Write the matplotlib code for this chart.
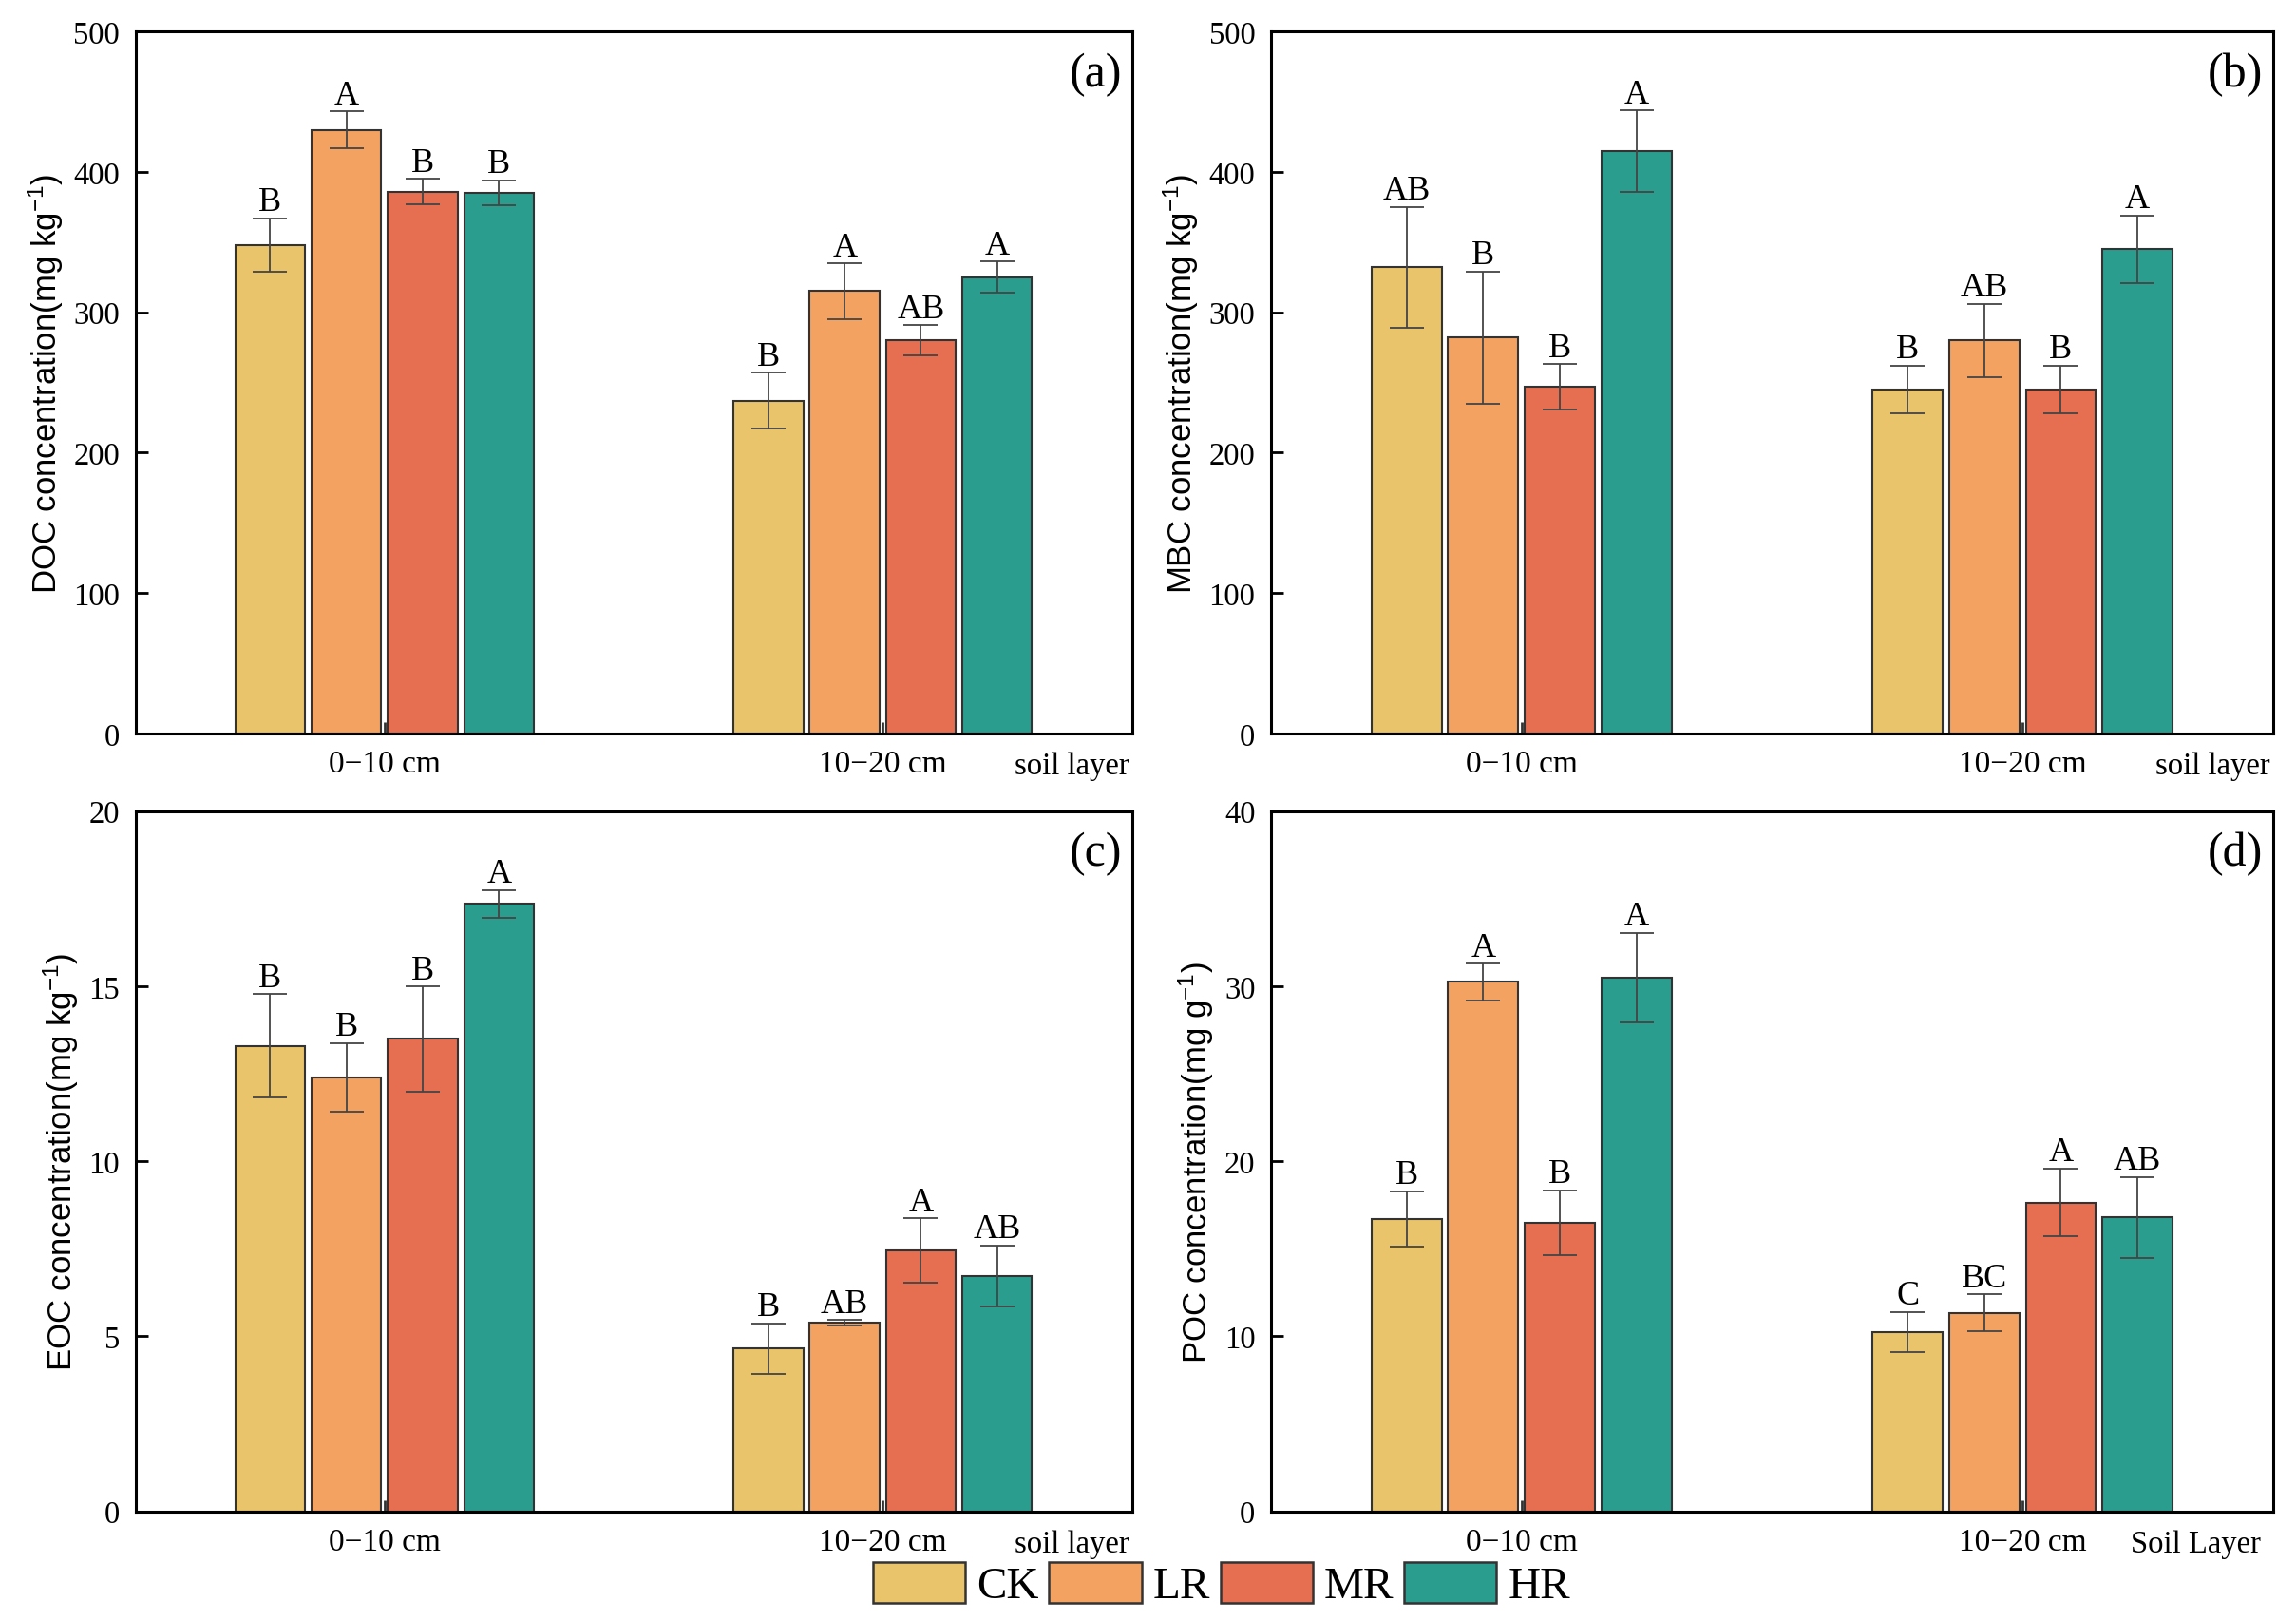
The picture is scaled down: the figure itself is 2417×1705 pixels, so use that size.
import matplotlib.pyplot as plt
from matplotlib.patches import Patch
import numpy as np

plt.rcParams['font.family'] = 'Liberation Serif'
plt.rcParams['mathtext.fontset'] = 'custom'
plt.rcParams['mathtext.rm'] = 'Liberation Sans'
plt.rcParams['mathtext.it'] = 'Liberation Sans:italic'

layers = ['0\u221210 cm', '10\u221220 cm']
treatments = ['CK', 'LR', 'MR', 'HR']
colors = ['#E9C46A', '#F4A261', '#E76F51', '#2A9D8F']

# values per treatment, order: [0-10 cm, 10-20 cm]
doc_mean = {'CK': [348, 237], 'LR': [430, 315], 'MR': [386, 280], 'HR': [385, 325]}
doc_err = {'CK': [19, 20], 'LR': [13, 20], 'MR': [9, 11], 'HR': [9, 11]}
doc_sig = {'CK': ['B', 'B'], 'LR': ['A', 'A'], 'MR': ['B', 'AB'], 'HR': ['B', 'A']}

mbc_mean = {'CK': [332, 245], 'LR': [282, 280], 'MR': [247, 245], 'HR': [415, 345]}
mbc_err = {'CK': [43, 17], 'LR': [47, 26], 'MR': [16, 17], 'HR': [29, 24]}
mbc_sig = {'CK': ['AB', 'B'], 'LR': ['B', 'AB'], 'MR': ['B', 'B'], 'HR': ['A', 'A']}

eoc_mean = {'CK': [13.3, 4.65], 'LR': [12.4, 5.38], 'MR': [13.5, 7.45], 'HR': [17.35, 6.72]}
eoc_err = {'CK': [1.47, 0.72], 'LR': [0.98, 0.08], 'MR': [1.5, 0.92], 'HR': [0.4, 0.88]}
eoc_sig = {'CK': ['B', 'B'], 'LR': ['B', 'AB'], 'MR': ['B', 'A'], 'HR': ['A', 'AB']}

poc_mean = {'CK': [16.7, 10.25], 'LR': [30.25, 11.35], 'MR': [16.5, 17.65], 'HR': [30.5, 16.8]}
poc_err = {'CK': [1.6, 1.15], 'LR': [1.05, 1.05], 'MR': [1.85, 1.95], 'HR': [2.55, 2.3]}
poc_sig = {'CK': ['B', 'C'], 'LR': ['A', 'BC'], 'MR': ['B', 'A'], 'HR': ['A', 'AB']}

panels = [
    ('(a)', 'DOC concentration(mg kg$^{-1}$)', doc_mean, doc_err, doc_sig, 500, 100, 'soil layer'),
    ('(b)', 'MBC concentration(mg kg$^{-1}$)', mbc_mean, mbc_err, mbc_sig, 500, 100, 'soil layer'),
    ('(c)', 'EOC concentration(mg kg$^{-1}$)', eoc_mean, eoc_err, eoc_sig, 20, 5, 'soil layer'),
    ('(d)', 'POC concentration(mg g$^{-1}$)', poc_mean, poc_err, poc_sig, 40, 10, 'Soil Layer'),
]

positions = [
    [0.059, 0.547, 0.434, 0.433],
    [0.5536, 0.547, 0.4364, 0.433],
    [0.059, 0.067, 0.434, 0.432],
    [0.5536, 0.067, 0.4364, 0.432],
]

fig = plt.figure(figsize=(24.17, 17.06), dpi=100)

x = np.arange(1, len(layers) + 1)
step = 0.153
width = 0.14

for pos, (tag, ylab, means, errs, sigs, ymax, ystep, xlab) in zip(positions, panels):
    ax = fig.add_axes(pos)
    for i, t in enumerate(treatments):
        xi = x + (i - 1.5) * step
        ax.bar(xi, means[t], width, color=colors[i], edgecolor='#333333',
               linewidth=1.5, zorder=2)
        ax.errorbar(xi, means[t], yerr=errs[t], fmt='none', ecolor='#444444',
                    elinewidth=1.3, capsize=13, capthick=1.3, zorder=3)
        for xx, m, e, s in zip(xi, means[t], errs[t], sigs[t]):
            ax.annotate(s, (xx, m + e), xytext=(0, 6), textcoords='offset points',
                        ha='center', va='baseline', fontsize=26)
    ax.set_xlim(0.5, 2.5)
    ax.set_ylim(0, ymax)
    ax.set_yticks(np.arange(0, ymax + 1e-9, ystep))
    ax.set_xticks(x)
    ax.set_xticklabels(layers)
    ax.tick_params(axis='y', direction='in', length=9, width=2, pad=12, labelsize=23.5)
    ax.tick_params(axis='x', direction='in', length=9, width=2, color='#333333',
                   pad=12, labelsize=24)
    for sp in ax.spines.values():
        sp.set_linewidth(2.2)
    ax.set_ylabel(ylab, fontsize=25, family='Liberation Sans', labelpad=6)
    ax.text(0.99, 0.94, tag, transform=ax.transAxes, ha='right', va='center', fontsize=36)
    ax.text(0.997 if xlab == 'soil layer' else 0.988, -0.046, xlab, transform=ax.transAxes,
            ha='right', va='center', fontsize=23.5)

handles = [Patch(facecolor=c, edgecolor='#333333', linewidth=1.8) for c in colors]
fig.legend(handles, treatments, loc='center', bbox_to_anchor=(0.532, 0.022), ncol=4,
           frameon=False, fontsize=34, handlelength=2.06, handleheight=1.02,
           handletextpad=0.25, columnspacing=0.23, borderpad=0.1)

fig.savefig('out.png', dpi=100)
